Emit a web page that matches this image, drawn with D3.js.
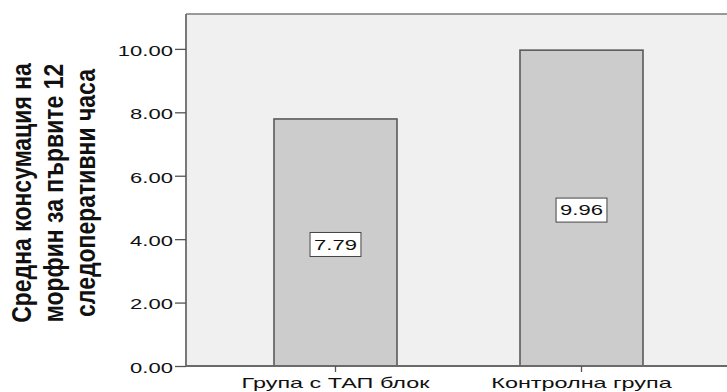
<!DOCTYPE html>
<html><head><meta charset="utf-8">
<script src="https://cdn.jsdelivr.net/npm/d3@7"></script>
<style>body{margin:0;background:#fff}</style>
</head><body><svg id="c" width="727" height="392"></svg>
<script>
const categories = ["Група с ТАП блок", "Контролна група"];
const means = [7.79, 9.96];
const yTicks = [0, 2, 4, 6, 8, 10];
const yTitleLines = ["Средна консумация на", "морфин за първите 12", "следоперативни часа"];

const FONT = "'Liberation Sans', Arial, sans-serif";
const SX = 1.47;
const svg = d3.select("#c");
const plot = {left: 186, top: 14, right: 760, bottom: 366};

const y = d3.scaleLinear().domain([0, 11.1]).range([plot.bottom, plot.top]);
const x = d3.scaleBand().domain(categories).range([151, 766]).paddingInner(0.5).paddingOuter(0.5);

// plot background
svg.append("rect").attr("x", plot.left).attr("y", plot.top)
  .attr("width", plot.right - plot.left).attr("height", plot.bottom - plot.top)
  .attr("fill", "#f0f0f0");
svg.append("line").attr("x1", plot.left).attr("x2", plot.right).attr("y1", plot.top).attr("y2", plot.top)
  .attr("stroke", "#7a7a7a").attr("stroke-width", 1.5);

// bars
const data = categories.map((c, i) => ({c, v: means[i]}));
svg.selectAll("rect.bar").data(data).join("rect").attr("class", "bar")
  .attr("x", d => x(d.c)).attr("width", x.bandwidth())
  .attr("y", d => y(d.v)).attr("height", d => y(0) - y(d.v))
  .attr("fill", "#cccccc").attr("stroke", "#5a5a5a").attr("stroke-width", 1.6);

// y axis
const ya = svg.append("g").attr("transform", `translate(${plot.left},0)`)
  .call(d3.axisLeft(y).tickValues(yTicks).tickFormat(d3.format(".2f")).tickSize(11).tickSizeOuter(0));
ya.select(".domain").attr("stroke", "#6a6a6a").attr("stroke-width", 1.8).attr("d", `M0,${plot.top}V${plot.bottom}`);
ya.selectAll(".tick line").attr("stroke", "#555").attr("stroke-width", 1.3);
ya.selectAll(".tick text").attr("x", 0).attr("dy", "0.36em")
  .attr("transform", `translate(-13,1) scale(${SX},1)`)
  .attr("font-family", FONT).attr("font-size", 15).attr("fill", "#111").attr("text-anchor", "end");

// x axis
const xa = svg.append("g").attr("transform", `translate(0,${plot.bottom})`)
  .call(d3.axisBottom(x).tickSize(6).tickSizeOuter(0));
xa.select(".domain").attr("stroke", "#6a6a6a").attr("stroke-width", 1.8).attr("d", `M${plot.left},0H${plot.right}`);
xa.selectAll(".tick line").attr("stroke", "#555").attr("stroke-width", 1.3);
xa.selectAll(".tick text").attr("y", 0).attr("dy", 0)
  .attr("transform", `translate(0,22) scale(1.56,1)`)
  .attr("font-family", FONT).attr("font-size", 15).attr("fill", "#111");

// value labels
const lab = svg.selectAll("g.vl").data(data).join("g").attr("class", "vl")
  .attr("transform", d => `translate(${x(d.c) + x.bandwidth() / 2},${(y(d.v) + y(0)) / 2 + 2})`);
lab.append("rect");
lab.append("text").text(d => d.v.toFixed(2))
  .attr("transform", `scale(${SX},1)`).attr("text-anchor", "middle").attr("dy", "0.36em")
  .attr("font-family", FONT).attr("font-size", 15).attr("fill", "#111");
lab.each(function() {
  const g = d3.select(this);
  const bb = g.select("text").node().getBBox();
  const w = bb.width * SX + 8, h = 24;
  g.select("rect").attr("x", -w / 2).attr("y", -h / 2).attr("width", w).attr("height", h)
    .attr("fill", "#fff").attr("stroke", "#444").attr("stroke-width", 1);
});

// y title
const TS = 1.18;
const t = svg.append("text").attr("transform", `translate(0,${(plot.top + plot.bottom) / 2 + 3}) scale(${TS},1) rotate(-90)`)
  .attr("text-anchor", "middle").attr("font-family", FONT).attr("font-weight", "bold")
  .attr("font-size", 23).attr("fill", "#111");
t.selectAll("tspan").data(yTitleLines).join("tspan")
  .attr("x", 0).attr("y", (d, i) => (31 + i * 32) / TS).text(d => d);
</script></body></html>
